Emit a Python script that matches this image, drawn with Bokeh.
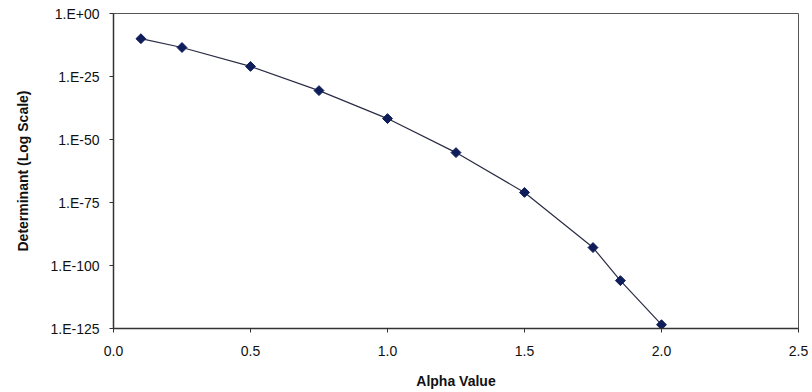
import math
from bokeh.plotting import figure
from bokeh.models import FixedTicker, CustomJSTickFormatter, NumeralTickFormatter, Range1d
from bokeh.embed import file_html
from bokeh.resources import INLINE

# Alpha values and the corresponding determinant (plotted on a log axis)
alpha = [0.1, 0.25, 0.5, 0.75, 1.0, 1.25, 1.5, 1.75, 1.85, 2.0]
determinant = [1e-10, 3.2e-14, 1e-21, 2.5e-31, 2e-42, 6.3e-56, 1e-71, 1.3e-93, 1e-106, 3.2e-124]

x_ticks = [0.0, 0.5, 1.0, 1.5, 2.0, 2.5]
y_ticks = [1e0, 1e-25, 1e-50, 1e-75, 1e-100, 1e-125]

FONT = "Liberation Sans"

p = figure(
    width=812, height=392,
    y_axis_type="log",
    x_range=Range1d(0.0, 2.5),
    y_range=Range1d(1e-125, 1e0),
    output_backend="svg",
    toolbar_location=None,
    min_border_left=113, min_border_right=14,
    min_border_top=13, min_border_bottom=64,
)

p.xgrid.visible = False
p.ygrid.visible = False
p.outline_line_color = "#555555"
p.outline_line_width = 1
p.background_fill_color = "white"
p.border_fill_color = "white"

# Axes
for ax in (p.xaxis[0], p.yaxis[0]):
    ax.axis_line_color = "#333333"
    ax.axis_line_width = 1.5
    ax.major_tick_line_color = "#333333"
    ax.major_tick_out = 4
    ax.major_tick_in = 0
    ax.minor_tick_line_color = None
    ax.major_label_text_font = FONT
    ax.major_label_text_color = "#111111"
    ax.axis_label_text_font = FONT
    ax.axis_label_text_font_style = "bold"
    ax.axis_label_text_font_size = "14px"
    ax.axis_label_text_color = "#111111"

p.xaxis.ticker = FixedTicker(ticks=x_ticks)
p.xaxis.formatter = NumeralTickFormatter(format="0.0")
p.xaxis.major_label_text_font_size = "14px"
p.xaxis.major_label_standoff = 13
p.xaxis.axis_label = "Alpha Value"
p.xaxis.axis_label_standoff = 14

p.yaxis.ticker = FixedTicker(ticks=y_ticks)
p.yaxis.formatter = CustomJSTickFormatter(code="""
    const e = Math.round(Math.log10(tick));
    const a = Math.abs(e);
    return "1.E" + (e < 0 ? "-" : "+") + (a < 10 ? "0" + a : String(a));
""")
p.yaxis.major_label_text_font_size = "14px"
p.yaxis.major_label_standoff = 10
p.yaxis.axis_label = "Determinant (Log Scale)"
p.yaxis.axis_label_standoff = 16

# Series: thin connecting line with square-diamond markers
p.line(alpha, determinant, line_color="#2a2d45", line_width=1.2)
p.scatter(alpha, determinant, marker="square", size=7, angle=math.pi / 4,
          fill_color="#0f1e5a", line_color="#0f1e5a")

open("out.html", "w").write(file_html(p, INLINE))
